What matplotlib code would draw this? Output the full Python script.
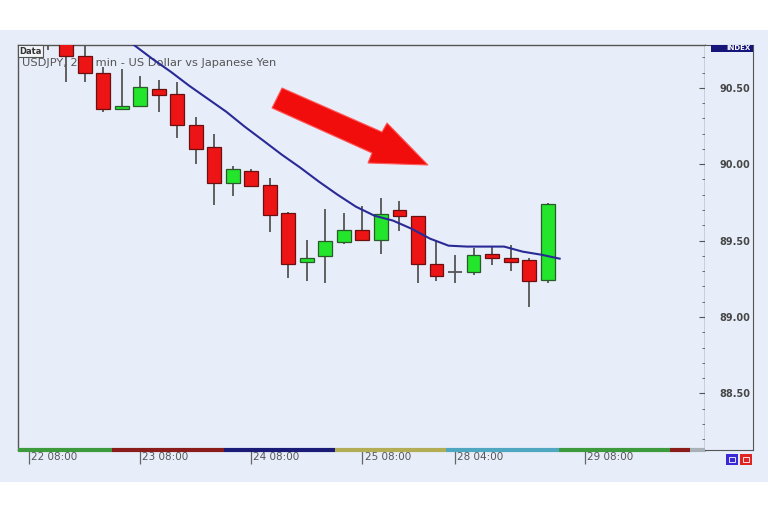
import matplotlib
matplotlib.use("Agg")
import matplotlib.pyplot as plt
import matplotlib.transforms as mtransforms
from matplotlib.patches import Rectangle, Polygon
import numpy as np

# 240 min candles, index 0 = 22 08:00
bar_index = list(range(1, 29))
opens = [90.95, 90.86, 90.705, 90.60, 90.361, 90.378, 90.491, 90.461, 90.258, 90.110,
         89.877, 89.953, 89.861, 89.681, 89.358, 89.397, 89.493, 89.567, 89.507, 89.703,
         89.659, 89.350, 89.293, 89.293, 89.415, 89.387, 89.371, 89.245]
highs = [91.00, 90.90, 90.79, 90.635, 90.622, 90.574, 90.552, 90.535, 90.308, 90.199,
         89.990, 89.969, 89.910, 89.685, 89.507, 89.707, 89.681, 89.724, 89.779, 89.757,
         89.663, 89.495, 89.408, 89.452, 89.463, 89.474, 89.387, 89.746]
lows = [90.75, 90.54, 90.54, 90.339, 90.356, 90.375, 90.341, 90.171, 90.003, 89.735,
        89.790, 89.855, 89.554, 89.256, 89.234, 89.224, 89.480, 89.502, 89.415, 89.561,
        89.224, 89.234, 89.224, 89.278, 89.343, 89.299, 89.067, 89.224]
closes = [90.86, 90.705, 90.60, 90.361, 90.382, 90.504, 90.452, 90.258, 90.101, 89.877,
          89.969, 89.859, 89.670, 89.348, 89.387, 89.495, 89.567, 89.507, 89.675, 89.659,
          89.350, 89.267, 89.293, 89.408, 89.387, 89.358, 89.234, 89.742]

# moving average, starts at bar 4
ma_index = list(range(4, 29))
ma_values = [90.873, 90.781, 90.690, 90.605, 90.513, 90.428, 90.343, 90.245, 90.154, 90.062,
             89.977, 89.886, 89.801, 89.722, 89.663, 89.631, 89.578, 89.513, 89.467, 89.461,
             89.461, 89.461, 89.428, 89.408, 89.382]
ma_shift = 0.65

tick_pos = [0, 6, 12, 18, 23, 30]
tick_labels = ["22 08:00", "23 08:00", "24 08:00", "25 08:00", "28 04:00", "29 08:00"]
y_major = [88.5, 89.0, 89.5, 90.0, 90.5]

# session colour strip under the chart
seg_edges = [-0.6, 4.5, 10.5, 16.5, 22.5, 28.6, 34.6, 35.7, 36.5]
seg_colors = ["#3d9a3d", "#8b1c1c", "#1b1b78", "#b3ae55", "#4fa7c2", "#3d9a3d", "#8b1c1c", "#a8b0b8"]

bg = "#e7edf9"
W, H = 768, 512

fig = plt.figure(figsize=(7.68, 5.12), dpi=100, facecolor="white")
fig.patches.append(Rectangle((0, 1 - 482 / H), 1, 452 / H, transform=fig.transFigure,
                             facecolor=bg, edgecolor="none", zorder=-10))

ax = fig.add_axes([18 / W, 1 - 450 / H, 687 / W, 405 / H], facecolor=bg)
ax_r = fig.add_axes([705 / W, 1 - 450 / H, 48 / W, 405 / H], facecolor=bg, sharey=ax)

ax.set_xlim(-0.6, 36.5)
ax.set_ylim(88.13, 90.78)

# candles
for i, o, h, l, c in zip(bar_index, opens, highs, lows, closes):
    ax.vlines(i, l, h, color="#555555", lw=1.3, zorder=3)
    if abs(c - o) < 0.002:
        ax.hlines(o, i - 0.37, i + 0.37, color="#555555", lw=1.3, zorder=4)
        continue
    up = c > o
    ax.bar(i, c - o, bottom=o, width=0.75,
           color="#22e52c" if up else "#ec1414",
           edgecolor="#2a5a2a" if up else "#6a1010", lw=0.9, zorder=4)

ax.plot(np.array(ma_index) + ma_shift, ma_values, color="#2a2a96", lw=1.5, zorder=5)

# axes styling
for s in ax.spines.values():
    s.set_color("#555555")
    s.set_linewidth(1.0)
ax.set_yticks(y_major)
ax.set_yticks(np.arange(88.2, 90.8, 0.1), minor=True)
ax.tick_params(axis="y", which="both", left=False, right=True, labelleft=False,
               labelright=False, direction="in", color="#555555")
ax.tick_params(axis="y", which="major", length=4)
ax.tick_params(axis="y", which="minor", length=2)

ax.set_xticks(tick_pos)
ax.set_xticklabels(tick_labels)
ax.tick_params(axis="x", direction="out", length=10, width=0.9, color="#666666",
               pad=-8.5, labelsize=7.5, labelcolor="#555555")
offset = mtransforms.ScaledTranslation(1.5 / 72, 0, fig.dpi_scale_trans)
for lbl in ax.get_xticklabels():
    lbl.set_horizontalalignment("left")
    lbl.set_transform(lbl.get_transform() + offset)

for k in range(len(seg_colors)):
    ax.plot([seg_edges[k], seg_edges[k + 1]], [0, 0], color=seg_colors[k], lw=3,
            solid_capstyle="butt", transform=ax.get_xaxis_transform(), clip_on=False, zorder=6)

# right price panel
ax_r.set_xticks([])
ax_r.spines["left"].set_visible(False)
for side in ["top", "right", "bottom"]:
    ax_r.spines[side].set_color("#555555")
ax_r.tick_params(axis="y", which="both", left=False, right=True, length=0,
                 labelleft=False, labelright=True, pad=-2, labelsize=7,
                 labelcolor="#474747")
ax_r.set_yticks(y_major)
ax_r.set_yticklabels([f"{v:.2f}" for v in y_major], fontweight="bold")
for lbl in ax_r.get_yticklabels():
    lbl.set_horizontalalignment("right")

# header texts
ax.text(4 / 687, 1 - 18 / 405, "USDJPY, 240 min - US Dollar vs Japanese Yen",
        transform=ax.transAxes, fontsize=8.2, color="#555555", va="center", zorder=1)
fig.text(19 / W, 1 - 51 / H, "Data", fontsize=6, fontweight="bold", color="#333333",
         va="center", ha="left",
         bbox=dict(boxstyle="square,pad=0.15", facecolor="#f2f4f8", edgecolor="#555555", lw=0.8))
fig.patches.append(Rectangle((711 / W, 1 - 52 / H), 42 / W, 7 / H, transform=fig.transFigure,
                             facecolor="#16167a", edgecolor="none", zorder=5))
fig.text(751 / W, 1 - 48.5 / H, "INDEX", fontsize=5, color="white", fontweight="bold",
         ha="right", va="center", zorder=6)

# small buttons bottom right
for x0, col in [(726, "#3b2ad4"), (740, "#e02424")]:
    fig.patches.append(Rectangle((x0 / W, 1 - 465 / H), 12 / W, 11 / H, transform=fig.transFigure,
                                 facecolor=col, edgecolor="none", zorder=5))
    fig.patches.append(Rectangle(((x0 + 3) / W, 1 - 462 / H), 6 / W, 5 / H, transform=fig.transFigure,
                                 facecolor="none", edgecolor="white", lw=0.6, zorder=6))

# red arrow
arrow_px = [(272, 108), (282, 88), (382, 132), (387, 123), (428, 165), (368, 163), (372, 153)]
fig.patches.append(Polygon([(x / W, 1 - y / H) for x, y in arrow_px], closed=True,
                           transform=fig.transFigure, facecolor="#f20d0d",
                           edgecolor="#ff5a5a", lw=0.8, zorder=7))

fig.savefig("out.png", dpi=100, facecolor="white")
